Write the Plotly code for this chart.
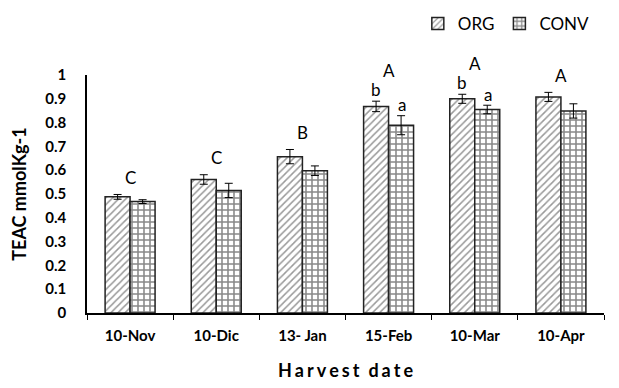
import plotly.graph_objects as go

categories = ["10-Nov", "10-Dic", "13- Jan", "15-Feb", "10-Mar", "10-Apr"]
org_values = [0.488, 0.561, 0.657, 0.868, 0.900, 0.908]
org_errors = [0.010, 0.020, 0.030, 0.022, 0.019, 0.019]
conv_values = [0.468, 0.515, 0.598, 0.789, 0.855, 0.849]
conv_errors = [0.008, 0.030, 0.020, 0.040, 0.018, 0.030]
org_letters = ["", "", "", "b", "b", ""]
conv_letters = ["", "", "", "a", "a", ""]
group_letters = ["C", "C", "B", "A", "A", "A"]
y_ticks = [0, 0.1, 0.2, 0.3, 0.4, 0.5, 0.6, 0.7, 0.8, 0.9, 1]
x_title = "Harvest date"

FONT = "Lato"

fig = go.Figure()
fig.add_trace(go.Bar(
    name="ORG", x=categories, y=org_values,
    error_y=dict(type="data", array=org_errors, color="black", thickness=1, width=4),
    marker=dict(color="white", line=dict(color="#222", width=1.5),
                pattern=dict(shape="/", fgcolor="#333", bgcolor="white", size=5, solidity=0.3)),
))
fig.add_trace(go.Bar(
    name="CONV", x=categories, y=conv_values,
    error_y=dict(type="data", array=conv_errors, color="black", thickness=1, width=4),
    marker=dict(color="white", line=dict(color="#222", width=1.5),
                pattern=dict(shape="+", fgcolor="#111", bgcolor="white", size=6, solidity=0.45)),
))

ann = []
for i, c in enumerate(categories):
    top_org = org_values[i] + org_errors[i]
    top_conv = conv_values[i] + conv_errors[i]
    if org_letters[i]:
        ann.append(dict(x=c, y=top_org, text=org_letters[i], xshift=-13, yshift=12,
                        showarrow=False, yanchor="middle", font=dict(size=17, family=FONT, color="black")))
    if conv_letters[i]:
        ann.append(dict(x=c, y=top_conv, text=conv_letters[i], xshift=13, yshift=11,
                        showarrow=False, yanchor="middle", font=dict(size=17, family=FONT, color="black")))
    base = max(top_org, top_conv)
    shift = 31 if org_letters[i] else 17
    ann.append(dict(x=c, y=base, text=group_letters[i], yshift=shift,
                    showarrow=False, yanchor="middle", font=dict(size=17, family=FONT, color="black")))

# letter-spaced title (narrow spaces between letters)
spaced_title = "\u2002".join("\u2006".join(w) for w in x_title.split(" "))

fig.update_layout(
    width=619, height=388,
    margin=dict(l=87, r=15, t=75, b=75),
    paper_bgcolor="white", plot_bgcolor="white",
    barmode="group", bargap=0.42, bargroupgap=0,
    font=dict(family=FONT, color="black"),
    annotations=ann,
    legend=dict(orientation="h", xref="container", yref="container", x=0.675, y=0.938,
                xanchor="left", yanchor="middle",
                font=dict(size=17, family=FONT), itemwidth=30, traceorder="normal"),
    xaxis=dict(showline=True, linecolor="black", linewidth=1.5, ticks="outside", automargin=False,
               tickson="boundaries", ticklen=5, tickcolor="black", ticklabelstandoff=8,
               tickfont=dict(size=15, family=FONT, weight="bold"),
               title=dict(text=spaced_title, font=dict(size=18, family=FONT, weight="bold"), standoff=22)),
    yaxis=dict(range=[0, 1], tickvals=y_ticks, ticktext=[str(v) for v in y_ticks], automargin=False,
               showline=True, linecolor="black", linewidth=1.5, showgrid=False, zeroline=False,
               ticks="", ticklabelstandoff=16,
               tickfont=dict(size=15, family=FONT, weight="bold"),
               title=dict(text="TEAC mmolKg-1", font=dict(size=18, family=FONT, weight="bold"), standoff=14)),
)

fig.write_html("out.html")
